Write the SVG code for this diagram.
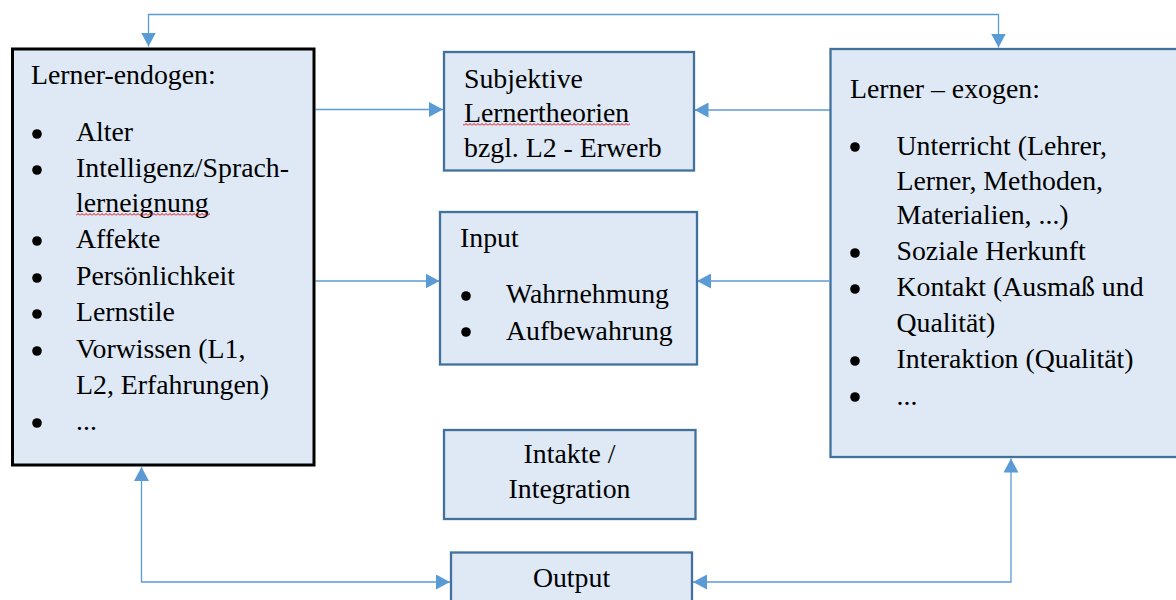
<svg xmlns="http://www.w3.org/2000/svg" width="1176" height="600" viewBox="0 0 1176 600">
  <style>
    .box { fill: #dee9f5; stroke: #41719c; stroke-width: 2.3; }
    .boxk { fill: #dee9f5; stroke: #000; stroke-width: 3; }
    .t { font-family: 'Liberation Serif', 'Times New Roman', serif; font-size: 27.8px; fill: #000; }
    .c { text-anchor: middle; }
    .b { fill: #000; }
    .conn { fill: none; stroke: #5b9bd5; stroke-width: 1.3; }
  </style>
  <defs>
    <marker id="arr" markerUnits="userSpaceOnUse" markerWidth="14" markerHeight="15" refX="14" refY="7.5" orient="auto-start-reverse">
      <path d="M0,0 L14,7.5 L0,15 z" fill="#5b9bd5"/>
    </marker>
    <pattern id="squiggle" patternUnits="userSpaceOnUse" x="0" y="0" width="4" height="3">
      <path d="M0,2.5 L2,0.5 L4,2.5" fill="none" stroke="#e00000" stroke-width="1"/>
    </pattern>
  </defs>

  <g id="connectors">
    <path class="conn" d="M148.5,46.5 L148.5,14.5 L998.5,14.5 L998.5,47.5" marker-start="url(#arr)" marker-end="url(#arr)"/>
    <path class="conn" d="M315.5,109.5 L443,109.5" marker-end="url(#arr)"/>
    <path class="conn" d="M830,110 L694.5,110" marker-end="url(#arr)"/>
    <path class="conn" d="M315.5,281 L439.5,281" marker-end="url(#arr)"/>
    <path class="conn" d="M829,281 L697,281" marker-end="url(#arr)"/>
    <path class="conn" d="M141.5,467 L141.5,582 L450,582" marker-start="url(#arr)" marker-end="url(#arr)"/>
    <path class="conn" d="M1011,458.5 L1011,582 L693,582" marker-start="url(#arr)" marker-end="url(#arr)"/>
  </g>

  <g id="lerner-endogen">
    <rect class="boxk" x="12.5" y="49" width="301.5" height="416"/>
    <text class="t" x="31" y="84">Lerner-endogen:</text>
    <circle class="b" cx="37" cy="134" r="4.8"/>
    <text class="t" x="76" y="141">Alter</text>
    <circle class="b" cx="37" cy="170" r="4.8"/>
    <text class="t" x="76" y="177">Intelligenz/Sprach-</text>
    <text class="t" x="76" y="212">lerneignung</text>
    <rect x="76" y="213" width="134" height="3" fill="url(#squiggle)"/>
    <circle class="b" cx="37" cy="241" r="4.8"/>
    <text class="t" x="76" y="248">Affekte</text>
    <circle class="b" cx="37" cy="278" r="4.8"/>
    <text class="t" x="76" y="285">Persönlichkeit</text>
    <circle class="b" cx="37" cy="314" r="4.8"/>
    <text class="t" x="76" y="321">Lernstile</text>
    <circle class="b" cx="37" cy="351" r="4.8"/>
    <text class="t" x="76" y="358">Vorwissen (L1,</text>
    <text class="t" x="76" y="394">L2, Erfahrungen)</text>
    <circle class="b" cx="37" cy="423" r="4.8"/>
    <text class="t" x="76" y="430">...</text>
  </g>

  <g id="subjektive-lernertheorien">
    <rect class="box" x="444" y="52" width="250" height="118.5"/>
    <text class="t" x="464" y="87.5">Subjektive</text>
    <text class="t" x="464" y="122">Lernertheorien</text>
    <rect x="463" y="123" width="167" height="3" fill="url(#squiggle)"/>
    <text class="t" x="464" y="157">bzgl. L2 - Erwerb</text>
  </g>

  <g id="input">
    <rect class="box" x="440" y="212" width="257" height="152.5"/>
    <text class="t" x="460" y="247">Input</text>
    <circle class="b" cx="466" cy="296" r="4.8"/>
    <text class="t" x="506" y="303">Wahrnehmung</text>
    <circle class="b" cx="466" cy="332" r="4.8"/>
    <text class="t" x="506" y="340">Aufbewahrung</text>
  </g>

  <g id="intakte-integration">
    <rect class="box" x="444" y="430" width="251.5" height="89"/>
    <text class="t c" x="569.5" y="463">Intakte /</text>
    <text class="t c" x="569.5" y="498">Integration</text>
  </g>

  <g id="output">
    <rect class="box" x="451" y="552.5" width="241" height="60"/>
    <text class="t c" x="571.5" y="587">Output</text>
  </g>

  <g id="lerner-exogen">
    <rect class="box" x="830.5" y="49" width="360" height="408"/>
    <text class="t" x="850" y="98">Lerner – exogen:</text>
    <circle class="b" cx="855" cy="147" r="4.8"/>
    <text class="t" x="896.5" y="155">Unterricht (Lehrer,</text>
    <text class="t" x="896.5" y="189.5">Lerner, Methoden,</text>
    <text class="t" x="896.5" y="224">Materialien, ...)</text>
    <circle class="b" cx="855" cy="253" r="4.8"/>
    <text class="t" x="896.5" y="260">Soziale Herkunft</text>
    <circle class="b" cx="855" cy="289" r="4.8"/>
    <text class="t" x="896.5" y="296">Kontakt (Ausmaß und</text>
    <text class="t" x="896.5" y="332">Qualität)</text>
    <circle class="b" cx="855" cy="361" r="4.8"/>
    <text class="t" x="896.5" y="368">Interaktion (Qualität)</text>
    <circle class="b" cx="855" cy="397" r="4.8"/>
    <text class="t" x="896.5" y="404.5">...</text>
  </g>
</svg>
